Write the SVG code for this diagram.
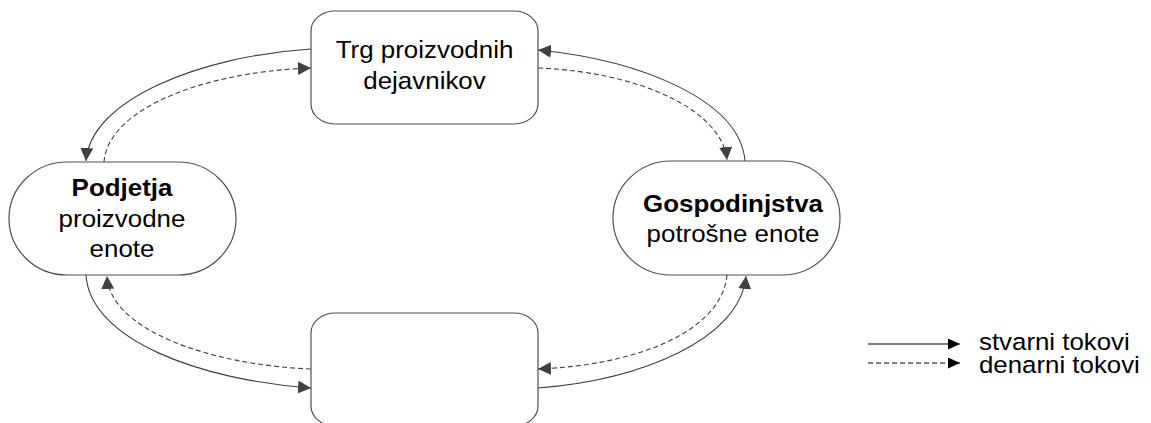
<svg xmlns="http://www.w3.org/2000/svg" width="1151" height="423" viewBox="0 0 1151 423">
<style>
.node{fill:#ffffff;stroke:#505050;stroke-width:1.2}
.t{font-family:"Liberation Sans",Arial,sans-serif;font-size:24px;fill:#000;text-anchor:middle}
.b{font-weight:bold}
.lt{font-family:"Liberation Sans",Arial,sans-serif;font-size:23.5px;fill:#000}
.c{fill:none;stroke:#404040;stroke-width:1.1}
.d{stroke-dasharray:5 3}
.lg{fill:none;stroke:#000;stroke-width:1.2}
</style>
<defs>
<marker id="ah" markerUnits="userSpaceOnUse" markerWidth="14" markerHeight="14" refX="13" refY="6.5" orient="auto">
<path d="M0,0 L13,6.5 L0,13 z" fill="#404040"/>
</marker>
<marker id="lh" markerUnits="userSpaceOnUse" markerWidth="14" markerHeight="12" refX="12" refY="5.5" orient="auto">
<path d="M0,0 L12,5.5 L0,11 z" fill="#000"/>
</marker>
</defs>
<g id="connectors">
<path class="c" d="M311,49 C200,56 90,100 86,161" marker-end="url(#ah)"/>
<path class="c d" d="M104,162 C108,110 200,72 311,68" marker-end="url(#ah)"/>
<path class="c" d="M745,161 C740,100 640,60 538,50" marker-end="url(#ah)"/>
<path class="c d" d="M538,68 C640,72 722,110 727,160" marker-end="url(#ah)"/>
<path class="c" d="M86,275 C90,340 200,380 311,388" marker-end="url(#ah)"/>
<path class="c d" d="M311,369 C210,365 110,330 107,276" marker-end="url(#ah)"/>
<path class="c" d="M538,388 C640,380 740,340 746,276" marker-end="url(#ah)"/>
<path class="c d" d="M727,275 C722,330 640,365 538,369" marker-end="url(#ah)"/>
</g>
<g id="node-trg">
<rect class="node" x="311" y="11" width="227" height="113" rx="24" ry="20"/>
<text class="t" transform="translate(424.5,58) scale(1.08,1)">Trg proizvodnih</text>
<text class="t" transform="translate(424.5,89) scale(1.08,1)">dejavnikov</text>
</g>
<g id="node-podjetja">
<rect class="node" x="9" y="162" width="227" height="113" rx="58" ry="56.5"/>
<text class="t b" transform="translate(122,196) scale(1.08,1)">Podjetja</text>
<text class="t" transform="translate(122,227) scale(1.08,1)">proizvodne</text>
<text class="t" transform="translate(122,257) scale(1.08,1)">enote</text>
</g>
<g id="node-gospodinjstva">
<rect class="node" x="613" y="161" width="227" height="114" rx="58" ry="57"/>
<text class="t b" transform="translate(733,212) scale(1.08,1)">Gospodinjstva</text>
<text class="t" transform="translate(733,242) scale(1.08,1)">potrošne enote</text>
</g>
<g id="node-bottom">
<rect class="node" x="311" y="313" width="227" height="113" rx="24" ry="20"/>
</g>
<g id="legend">
<path class="lg" d="M868,344 L960,344" marker-end="url(#lh)"/>
<path class="lg d" d="M868,363 L960,363" marker-end="url(#lh)"/>
<text class="lt" transform="translate(979,350) scale(1.1,1)">stvarni tokovi</text>
<text class="lt" transform="translate(979,373) scale(1.1,1)">denarni tokovi</text>
</g>
</svg>
